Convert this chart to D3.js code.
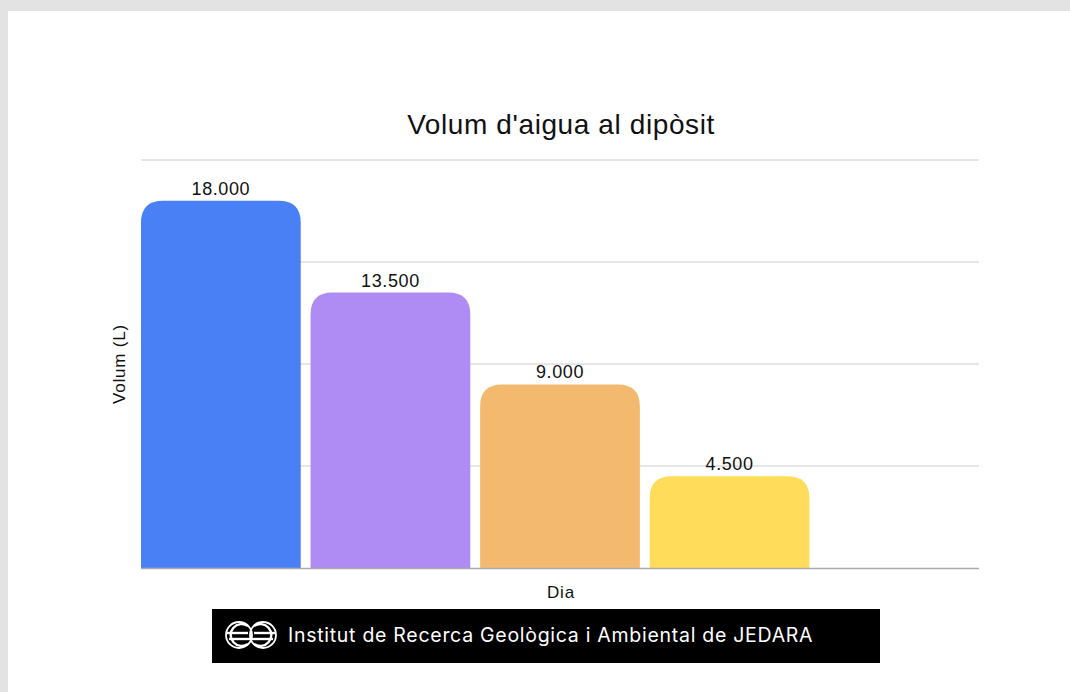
<!DOCTYPE html>
<html>
<head>
<meta charset="utf-8">
<script src="https://cdn.jsdelivr.net/npm/d3@7"></script>
<style>
  body { margin: 0; background: #e3e3e3; }
  svg { display: block; }
</style>
</head>
<body>
<svg id="chart" width="1070" height="692"></svg>
<script>
// Data
const dies = ["1", "2", "3", "4", "5"];
const volums = [18000, 13500, 9000, 4500, null];
const colors = ["#4a80f5", "#ae8cf4", "#f2b96f", "#ffdd5a", "#ffffff"];
const yTicks = [0, 5000, 10000, 15000, 20000];

const width = 1070;
const height = 692;
const margin = { top: 160, right: 91, bottom: 124, left: 141 };
const innerH = height - margin.top - margin.bottom;
const font = "Liberation Sans, Arial, sans-serif";

const svg = d3.select("#chart");

// white panel over the gray frame
svg.append("rect")
    .attr("x", 8).attr("y", 11)
    .attr("width", width - 8).attr("height", height - 11)
    .attr("fill", "#fff");

const x = d3.scaleBand()
    .domain(dies)
    .range([margin.left, width - margin.right])
    .paddingInner(0.058)
    .paddingOuter(0);

const y = d3.scaleLinear()
    .domain([0, 20000])
    .range([margin.top + innerH, margin.top]);

// gridlines
svg.append("g")
  .selectAll("line")
  .data(yTicks.slice(1))
  .join("line")
    .attr("x1", margin.left)
    .attr("x2", width - margin.right)
    .attr("y1", d => y(d))
    .attr("y2", d => y(d))
    .attr("stroke", "#cccccc")
    .attr("stroke-width", 1);

// bars with rounded top corners
function topRounded(x0, y0, w, h, r) {
  r = Math.min(r, w / 2, h);
  return `M${x0},${y0 + h}V${y0 + r}Q${x0},${y0} ${x0 + r},${y0}` +
         `H${x0 + w - r}Q${x0 + w},${y0} ${x0 + w},${y0 + r}V${y0 + h}Z`;
}

const rows = dies.map((d, i) => ({ dia: d, v: volums[i], c: colors[i] }))
  .filter(d => d.v != null);

svg.append("g")
  .selectAll("path")
  .data(rows)
  .join("path")
    .attr("d", d => topRounded(x(d.dia), y(d.v), x.bandwidth(), y(0) - y(d.v), 22))
    .attr("fill", d => d.c);

// value labels
svg.append("g")
  .selectAll("text")
  .data(rows)
  .join("text")
    .attr("x", d => x(d.dia) + x.bandwidth() / 2)
    .attr("y", d => y(d.v) - 6)
    .attr("text-anchor", "middle")
    .attr("font-family", font)
    .attr("font-size", 18)
    .attr("letter-spacing", 0.6)
    .attr("fill", "#111")
    .text(d => d3.format(",")(d.v).replace(/,/g, "."));

// baseline
svg.append("line")
    .attr("x1", margin.left)
    .attr("x2", width - margin.right)
    .attr("y1", y(0) + 0.5)
    .attr("y2", y(0) + 0.5)
    .attr("stroke", "#aaaaaa")
    .attr("stroke-width", 1.5);

// title
svg.append("text")
    .attr("x", 561)
    .attr("y", 134)
    .attr("text-anchor", "middle")
    .attr("font-family", font)
    .attr("font-size", 28)
    .attr("letter-spacing", 0.6)
    .attr("fill", "#111")
    .text("Volum d'aigua al dipòsit");

// axis titles
svg.append("text")
    .attr("transform", `translate(125,${(y(0) + y(20000)) / 2}) rotate(-90)`)
    .attr("text-anchor", "middle")
    .attr("font-family", font)
    .attr("font-size", 17)
    .attr("letter-spacing", 0.8)
    .attr("fill", "#111")
    .text("Volum (L)");

svg.append("text")
    .attr("x", 561)
    .attr("y", 598)
    .attr("text-anchor", "middle")
    .attr("font-family", font)
    .attr("font-size", 17)
    .attr("letter-spacing", 0.8)
    .attr("fill", "#111")
    .text("Dia");

// footer banner
const footer = svg.append("g");
footer.append("rect")
    .attr("x", 212).attr("y", 609)
    .attr("width", 668).attr("height", 54)
    .attr("fill", "#000");

// logo: two interlocked rings
const logo = footer.append("g")
    .attr("transform", "translate(251,635)")
    .attr("fill", "none")
    .attr("stroke", "#fff")
    .attr("stroke-width", 2.4);
logo.append("path").attr("d", "M-3,-9A11,11 0 1 0 -3,9");
logo.append("path").attr("d", "M-24,-2H-3");
logo.append("path").attr("d", "M-22,4H0");
logo.append("path").attr("d", "M3,-9A11,11 0 1 1 3,9");
logo.append("path").attr("d", "M3,-2H24");
logo.append("path").attr("d", "M0,4H22");
logo.append("circle").attr("r", 13).attr("cx", -12).attr("stroke-width", 1.8);
logo.append("circle").attr("r", 13).attr("cx", 12).attr("stroke-width", 1.8);

footer.append("text")
    .attr("x", 288)
    .attr("y", 642)
    .attr("font-family", "Inter, sans-serif")
    .attr("font-size", 19.5)
    .attr("letter-spacing", 0.72)
    .attr("fill", "#fff")
    .text("Institut de Recerca Geològica i Ambiental de JEDARA");
</script>
</body>
</html>
